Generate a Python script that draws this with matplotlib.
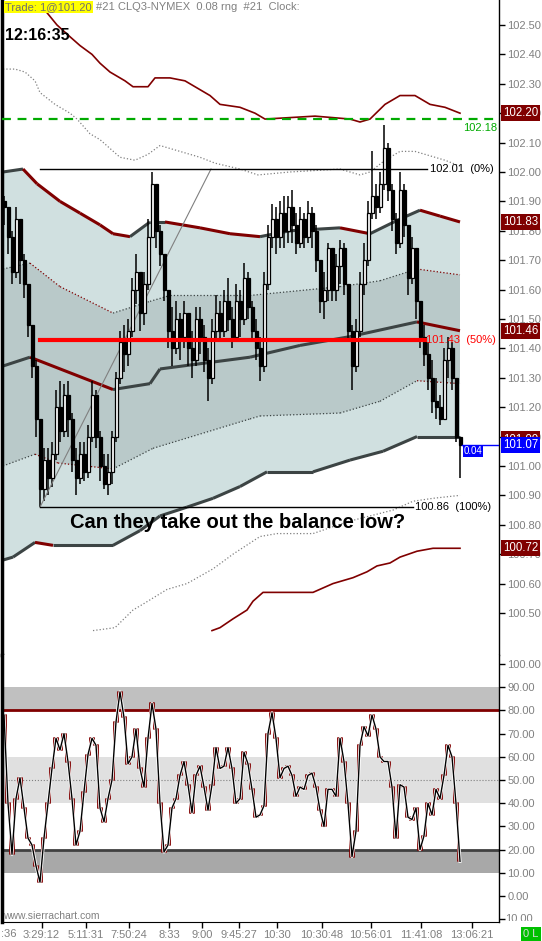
import numpy as np
import matplotlib.pyplot as plt
from matplotlib.collections import LineCollection
from matplotlib.transforms import Bbox, TransformedBbox, blended_transform_factory

plt.rcParams['font.family'] = ['Liberation Sans', 'DejaVu Sans']

# ---- price bars (one bar every 4 px) ----
closes = [
    101.88, 101.78, 101.66, 101.84, 101.70, 101.62, 101.48, 101.34, 101.16, 100.92,
    101.02, 100.96, 101.04, 101.20, 101.12, 101.24, 101.16, 101.02, 100.96, 101.04,
    100.98, 101.10, 101.24, 101.10, 101.00, 100.94, 100.98, 101.10, 101.30, 101.42,
    101.38, 101.46, 101.60, 101.66, 101.52, 101.62, 101.78, 101.96, 101.80, 101.72,
    101.60, 101.46, 101.40, 101.50, 101.44, 101.52, 101.40, 101.36, 101.50, 101.44,
    101.36, 101.30, 101.46, 101.52, 101.46, 101.56, 101.50, 101.44, 101.56, 101.50,
    101.64, 101.54, 101.46, 101.40, 101.34, 101.62, 101.78, 101.84, 101.78, 101.86,
    101.80, 101.88, 101.82, 101.76, 101.84, 101.78, 101.86, 101.80, 101.70, 101.56,
    101.60, 101.74, 101.60, 101.68, 101.74, 101.62, 101.46, 101.34, 101.46, 101.62,
    101.70, 101.86, 101.92, 101.88, 101.96, 102.08, 101.94, 101.84, 101.76, 101.94,
    101.82, 101.64, 101.74, 101.56, 101.44, 101.38, 101.30, 101.22, 101.20, 101.16,
    101.36, 101.40, 101.30, 101.10, 101.07]
highs = [
    101.92, 101.86, 101.80, 101.88, 101.78, 101.72, 101.62, 101.46, 101.36, 101.12,
    101.06, 101.06, 101.08, 101.26, 101.29, 101.28, 101.29, 101.18, 101.06, 101.08,
    101.08, 101.14, 101.29, 101.26, 101.12, 101.04, 101.04, 101.12, 101.32, 101.46,
    101.48, 101.50, 101.64, 101.72, 101.64, 101.66, 101.84, 102.00, 101.94, 101.82,
    101.72, 101.60, 101.54, 101.56, 101.52, 101.56, 101.52, 101.46, 101.54, 101.54,
    101.48, 101.40, 101.50, 101.58, 101.56, 101.60, 101.64, 101.54, 101.62, 101.60,
    101.69, 101.66, 101.56, 101.50, 101.44, 101.66, 101.82, 101.89, 101.88, 101.90,
    101.92, 101.92, 101.94, 101.86, 101.88, 101.86, 101.90, 101.88, 101.82, 101.70,
    101.66, 101.76, 101.74, 101.72, 101.77, 101.76, 101.62, 101.48, 101.50, 101.66,
    101.76, 101.90, 102.07, 101.96, 102.00, 102.16, 102.10, 101.96, 101.86, 102.00,
    101.96, 101.82, 101.78, 101.72, 101.56, 101.48, 101.42, 101.36, 101.30, 101.24,
    101.40, 101.44, 101.42, 101.30, 101.08]
lows = [
    101.82, 101.72, 101.62, 101.64, 101.62, 101.57, 101.44, 101.30, 101.10, 100.86,
    100.88, 100.90, 100.93, 101.02, 101.08, 101.10, 101.10, 100.98, 100.90, 100.94,
    100.95, 100.96, 101.08, 101.06, 100.95, 100.92, 100.90, 100.94, 101.08, 101.28,
    101.32, 101.34, 101.44, 101.55, 101.46, 101.48, 101.60, 101.78, 101.74, 101.68,
    101.56, 101.40, 101.34, 101.38, 101.36, 101.40, 101.34, 101.30, 101.34, 101.38,
    101.32, 101.22, 101.28, 101.42, 101.42, 101.44, 101.46, 101.40, 101.42, 101.44,
    101.48, 101.50, 101.42, 101.36, 101.29, 101.32, 101.60, 101.74, 101.72, 101.74,
    101.74, 101.76, 101.76, 101.72, 101.74, 101.74, 101.76, 101.74, 101.66, 101.52,
    101.50, 101.56, 101.56, 101.56, 101.62, 101.58, 101.42, 101.26, 101.32, 101.44,
    101.58, 101.68, 101.84, 101.84, 101.86, 101.94, 101.90, 101.80, 101.72, 101.74,
    101.78, 101.58, 101.62, 101.50, 101.40, 101.34, 101.26, 101.18, 101.16, 101.14,
    101.16, 101.30, 101.26, 101.08, 100.96]
first_open = 101.90

# ---- oscillator ----
osc = [
    78, 40, 18, 42, 51, 38, 25, 22, 13, 6,
    25, 40, 55, 68, 63, 70, 58, 42, 22, 28,
    45, 61, 68, 65, 38, 32, 42, 50, 75, 88,
    77, 57, 60, 72, 55, 47, 68, 83, 72, 40,
    19, 22, 38, 42, 52, 58, 48, 36, 52, 56,
    47, 37, 48, 64, 55, 56, 64, 55, 40, 42,
    62, 57, 46, 34, 35, 39, 70, 79, 68, 51,
    55, 56, 52, 43, 47, 46, 52, 53, 47, 37,
    30, 46, 46, 43, 68, 58, 40, 17, 28, 65,
    73, 69, 78, 72, 60, 58, 58, 47, 25, 48,
    47, 34, 33, 38, 20, 26, 40, 35, 46, 42,
    52, 65, 60, 40, 15]

# ---- VWAP bands: (bar index, price) ----
band2_up_x = [-0.25, 4.75, 8.25, 14, 19, 24, 27.25, 31.5, 36.5, 40.25, 49, 56.5, 64, 71.5, 84, 91.5, 99, 104, 109, 114]
band2_up_y = [102.00, 102.01, 101.96, 101.90, 101.86, 101.82, 101.79, 101.78, 101.83, 101.83, 101.81, 101.79, 101.78, 101.80, 101.81, 101.79, 101.84, 101.87, 101.85, 101.83]
band1_up_x = [-0.25, 6.5, 14, 27.25, 36.5, 41.5, 61.5, 84, 94, 103.25, 114]
band1_up_y = [101.67, 101.69, 101.61, 101.52, 101.56, 101.58, 101.58, 101.61, 101.63, 101.67, 101.65]
vwap_x = [-0.25, 6.5, 27.25, 36.5, 39, 61.5, 74, 86.5, 103.25, 114]
vwap_y = [101.34, 101.37, 101.26, 101.28, 101.33, 101.37, 101.41, 101.44, 101.49, 101.46]
band1_dn_x = [-0.25, 7.75, 13.5, 27.25, 37.25, 61.5, 64, 84, 94, 103.25, 114]
band1_dn_y = [101.00, 101.04, 101.01, 100.99, 101.06, 101.16, 101.17, 101.18, 101.22, 101.29, 101.28]
band2_dn_x = [-0.25, 2.25, 7.75, 12.25, 27.25, 34, 39, 45.75, 52.25, 59, 65.75, 77.25, 86.5, 94.75, 103.25, 114]
band2_dn_y = [100.68, 100.69, 100.74, 100.73, 100.73, 100.78, 100.83, 100.86, 100.89, 100.93, 100.98, 100.98, 101.02, 101.05, 101.10, 101.10]
band4_up_x = [10.25, 13.25, 16.5, 19, 22, 24, 26.5, 30.25, 32.25, 36, 37.75, 41.5, 45.25, 49, 51.5, 54, 59, 62.75, 65.25, 77.75, 86.5, 89, 91.5, 95.25, 99, 102.75, 106.5, 110.25, 114]
band4_up_y = [102.55, 102.50, 102.46, 102.43, 102.40, 102.37, 102.34, 102.31, 102.29, 102.29, 102.32, 102.32, 102.31, 102.28, 102.26, 102.23, 102.22, 102.20, 102.18, 102.19, 102.18, 102.17, 102.18, 102.23, 102.26, 102.26, 102.23, 102.22, 102.20]
band3_up_x = [-0.25, 2.75, 5.25, 7.75, 9, 12.75, 16.5, 18.25, 21.5, 24, 29, 32.75, 36, 39, 44, 49, 52.75, 59, 63.5, 71.5, 84, 89, 91.5, 95.25, 99, 102.75, 110.25, 114]
band3_up_y = [102.35, 102.35, 102.34, 102.31, 102.27, 102.23, 102.20, 102.18, 102.13, 102.11, 102.05, 102.04, 102.06, 102.09, 102.07, 102.05, 102.03, 102.01, 101.99, 102.00, 102.01, 101.99, 102.00, 102.04, 102.07, 102.07, 102.04, 102.02]
band3_dn_x = [22.25, 27.75, 32.25, 34.75, 40.75, 45.75, 52.25, 57.25, 64, 68.25, 77.25, 85.75, 97.25, 102.25, 107.25, 114]
band3_dn_y = [100.44, 100.45, 100.51, 100.53, 100.58, 100.60, 100.65, 100.70, 100.76, 100.77, 100.77, 100.81, 100.85, 100.88, 100.89, 100.90]
band4_dn_x = [52, 54, 57.25, 60.75, 62.25, 64.75, 66.5, 77.25, 82.25, 87.25, 90.75, 93.25, 96.5, 99, 103.25, 107.25, 113.25, 114]
band4_dn_y = [100.44, 100.45, 100.48, 100.51, 100.54, 100.57, 100.57, 100.57, 100.60, 100.62, 100.64, 100.66, 100.67, 100.69, 100.71, 100.72, 100.72, 100.72]

# ---- price levels and labels ----
fib_hi, fib_mid, fib_lo = 102.01, 101.43, 100.86
green_level = 102.18
last_price = 101.07
right_tags = [(102.20, '102.20'), (101.83, '101.83'), (101.46, '101.46'), (101.09, '101.09'), (100.72, '100.72')]
price_ticks = [100.5, 100.6, 100.7, 100.8, 100.9, 101.0, 101.1, 101.2, 101.3, 101.4, 101.5,
               101.6, 101.7, 101.8, 101.9, 102.0, 102.1, 102.2, 102.3, 102.4, 102.5]
osc_ticks = [100, 90, 80, 70, 60, 50, 40, 30, 20, 10, 0, -10]
time_pos = [9.375, 20.375, 31.25, 41.25, 49.5, 58.75, 68.25, 79.5, 91.75, 104.25, 117]
time_labels = ['3:29:12', '5:11:31', '7:50:24', '8:33', '9:00', '9:45:27', '10:30',
               '10:30:48', '10:56:01', '11:41:08', '13:06:21']

W, H = 542, 941
fig = plt.figure(figsize=(W / 100, H / 100), dpi=100)

def P(x, y):
    return x / W, 1 - y / H

def px_axes(left, top, right, bottom):
    return fig.add_axes([left / W, 1 - bottom / H, (right - left) / W, (bottom - top) / H])

ax = px_axes(2, 0, 499, 655)
axo = px_axes(2, 655, 499, 922)

RED = '#800000'
DARK = '#3c4444'
GRAY = '#808080'
xlim = (-0.5, 123.75)

for a in (ax, axo):
    a.set_xlim(*xlim)
    a.spines['top'].set_visible(False)
    a.spines['left'].set_linewidth(2.5)
    a.spines['right'].set_linewidth(1)
    a.yaxis.tick_right()
    a.tick_params(axis='y', direction='out', length=4, width=1, color='black',
                  labelcolor=GRAY, labelsize=8, pad=2)
ax.spines['bottom'].set_visible(False)
ax.set_xticks([])
ax.set_ylim(100.357, 102.585)
ax.set_yticks(price_ticks)
ax.set_yticklabels(['%.2f' % t for t in price_ticks])

# band fills
def poly(xa, ya, xb, yb):
    return list(xa) + list(xb)[::-1], list(ya) + list(yb)[::-1]

px_, py_ = poly(band2_up_x, band2_up_y, band2_dn_x, band2_dn_y)
ax.fill(px_, py_, color='#d0e0e0', lw=0, zorder=1)
px_, py_ = poly(band1_up_x, band1_up_y, band1_dn_x, band1_dn_y)
ax.fill(px_, py_, color='#b9c9c9', lw=0, zorder=1.1)

def slope_line(a, xs, ys, lw, ls='-'):
    pts = np.column_stack([xs, ys])
    segs = np.stack([pts[:-1], pts[1:]], axis=1)
    cols = [RED if ys[k + 1] < ys[k] else DARK for k in range(len(xs) - 1)]
    a.add_collection(LineCollection(segs, colors=cols, linewidths=lw, linestyles=ls, zorder=2))

slope_line(ax, band2_up_x, band2_up_y, 2.2)
slope_line(ax, vwap_x, vwap_y, 2.2)
slope_line(ax, band2_dn_x, band2_dn_y, 2.2)
slope_line(ax, band1_up_x, band1_up_y, 0.9, ':')
slope_line(ax, band1_dn_x, band1_dn_y, 0.9, ':')
ax.plot(band4_up_x, band4_up_y, color=RED, lw=1.2, zorder=2)
ax.plot(band4_dn_x, band4_dn_y, color=RED, lw=1.2, zorder=2)
ax.plot(band3_up_x, band3_up_y, color=GRAY, lw=0.9, ls=':', zorder=2)
ax.plot(band3_dn_x, band3_dn_y, color=GRAY, lw=0.9, ls=':', zorder=2)

# candles
c = np.array(closes)
o = np.concatenate([[first_open], c[:-1]])
hi = np.maximum(np.array(highs), np.maximum(o, c))
lo = np.minimum(np.array(lows), np.minimum(o, c))
xb = np.arange(len(c))
ax.vlines(xb, lo, hi, color='black', lw=1.1, zorder=3)
up = c >= o
body = np.maximum(np.abs(c - o), 0.006)
ax.bar(xb, body, bottom=np.minimum(o, c), width=0.75,
       color=np.where(up, 'white', 'black'), edgecolor='black', lw=0.9, zorder=4)

# fib / levels
ax.plot([9, 51.75], [fib_lo, fib_hi], color=GRAY, lw=0.8, zorder=3)
ax.plot([9, 105.75], [fib_hi, fib_hi], color='black', lw=1, zorder=5)
ax.plot([9, 102.25], [fib_lo, fib_lo], color='black', lw=1, zorder=5)
ax.plot([9, 105.25], [fib_mid, fib_mid], color='#ff0000', lw=3, zorder=5)
ax.text(106.5, fib_hi, '%.2f  (0%%)' % fib_hi, fontsize=8, va='center', zorder=6)
ax.text(105.6, fib_mid, '%.2f  (50%%)' % fib_mid, fontsize=8, va='center', color='#ff0000', zorder=6)
ax.text(102.75, fib_lo, '%.2f  (100%%)' % fib_lo, fontsize=8, va='center', zorder=6)

ax.axhline(green_level, color='#00aa00', lw=1.6, ls=(0, (4, 3)), zorder=5)
ax.text(123.25, green_level - 0.03, '%.2f' % green_level, color='#00aa00', fontsize=8,
        ha='right', va='center', zorder=6)

ax.plot([114.5, 123.75], [last_price, last_price], color='#0000ff', lw=1, zorder=5)
ax.text(114.9, last_price - 0.018, '0.04', color='white', fontsize=7, va='center',
        bbox=dict(boxstyle='square,pad=0.1', fc='#0000ff', ec='none'), zorder=6)

tr = blended_transform_factory(ax.transAxes, ax.transData)
for yv, s in right_tags:
    ax.text(1.008, yv, s, transform=tr, color='white', fontsize=8.3, va='center', ha='left',
            clip_on=False, zorder=7, bbox=dict(boxstyle='square,pad=0.18', fc=RED, ec='none'))
ax.text(1.008, last_price, '%.2f' % last_price, transform=tr, color='white', fontsize=8.3,
        va='center', ha='left', clip_on=False, zorder=8,
        bbox=dict(boxstyle='square,pad=0.18', fc='#0000ff', ec='none'))

# ---- oscillator panel ----
axo.set_ylim(-11.16, 103.9)
axo.axhspan(80, 90, color='#c0c0c0', lw=0, zorder=0)
axo.axhspan(40, 60, color='#e0e0e0', lw=0, zorder=0)
axo.axhspan(10, 20, color='#a8a8a8', lw=0, zorder=0)
axo.axhline(80, color=RED, lw=2, zorder=1)
axo.axhline(20, color='#404040', lw=2, zorder=1)
axo.axhline(50, color=GRAY, lw=0.8, ls=':', zorder=1)
xo = np.arange(len(osc))
axo.plot(xo, osc, color=RED, lw=1.3, drawstyle='steps-mid', zorder=2)
axo.plot(xo, osc, color='white', lw=2.2, zorder=2.5)
axo.plot(xo, osc, color='black', lw=1.0, zorder=3)
axo.set_yticks(osc_ticks)
axo.set_yticklabels(['%.2f' % t if t >= 0 else '' for t in osc_ticks])

axo.set_xticks(time_pos)
axo.set_xticklabels(time_labels)
axo.tick_params(axis='x', direction='out', length=4, width=1, labelcolor=GRAY, labelsize=8, pad=2)
axo.text(0.003, -8.5, 'www.sierrachart.com', transform=blended_transform_factory(axo.transAxes, axo.transData),
         color=GRAY, fontsize=7.5, va='center')

# -10 label is cut by the time axis
t10 = fig.text(*P(505, 919), '10.00', color=GRAY, fontsize=8, va='center')
t10.set_clip_on(True)
t10.set_clip_box(TransformedBbox(Bbox.from_extents(499 / W, 1 - 921 / H, 1, 1 - 655 / H), fig.transFigure))

# ---- header texts ----
fig.text(*P(5, 7), 'Trade: 1@101.20', color='#707070', fontsize=8, va='center',
         bbox=dict(boxstyle='square,pad=0.12', fc='#ffff00', ec='none'))
fig.text(*P(96, 7), '#21 CLQ3-NYMEX  0.08 rng  #21  Clock:', color=GRAY, fontsize=8, va='center')
fig.text(*P(5, 35), '12:16:35', color='black', fontsize=11.5, fontweight='bold', va='center')
fig.text(*P(70, 523), 'Can they take out the balance low?', color='black', fontsize=14.5,
         fontweight='bold', va='center')
fig.text(*P(1, 934), ':36', color=GRAY, fontsize=8, va='center')
fig.text(*P(523, 934), '0 L', color='#d8d8d8', fontsize=8, va='center',
         bbox=dict(boxstyle='square,pad=0.2', fc='#00c000', ec='none'))

fig.savefig('out.png', dpi=100)
